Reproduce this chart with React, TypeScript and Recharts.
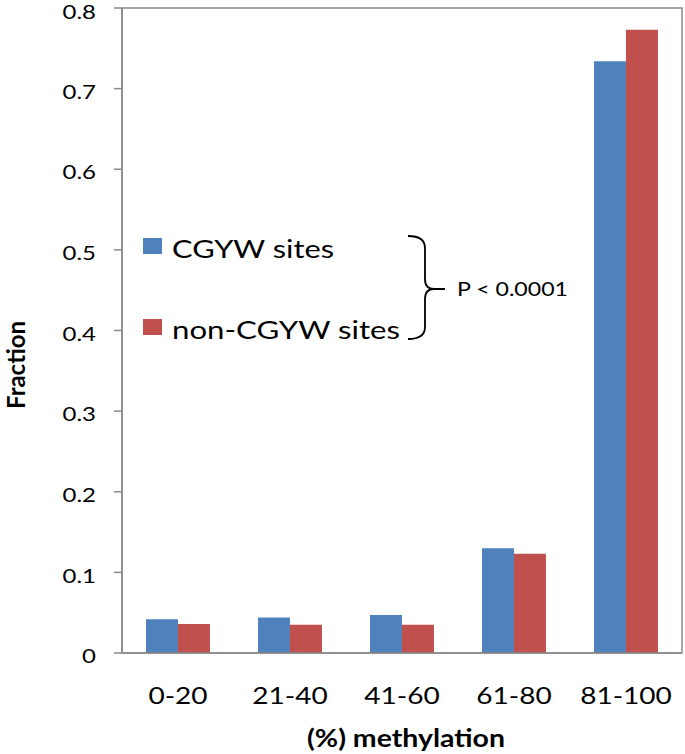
import {
  BarChart,
  Bar,
  XAxis,
  YAxis,
  Legend,
  ReferenceArea,
} from "recharts";

const categories = ["0-20", "21-40", "41-60", "61-80", "81-100"];
const cgywValues = [0.042, 0.044, 0.047, 0.13, 0.734];
const nonCgywValues = [0.036, 0.035, 0.035, 0.123, 0.773];
const yTicks = [0, 0.1, 0.2, 0.3, 0.4, 0.5, 0.6, 0.7, 0.8];

const data = categories.map((name, i) => ({
  name,
  cgyw: cgywValues[i],
  nonCgyw: nonCgywValues[i],
}));

const BLUE = "#4F81BD";
const RED = "#C0504D";
const AXIS = "#8a8a8a";
const FONT = "Lato, 'Open Sans', sans-serif";

function YTick({ x, y, payload }: any) {
  const label = payload.value === 0 ? "0" : payload.value.toFixed(1);
  return (
    <g transform={`translate(${x},${y + 3})`}>
      <text
        textAnchor="end"
        dy="0.36em"
        transform="scale(1.2,1)"
        fontFamily={FONT}
        fontSize={20}
        fill="#000"
      >
        {label}
      </text>
    </g>
  );
}

function XTick({ x, y, payload }: any) {
  return (
    <g transform={`translate(${x},${y})`}>
      <text
        textAnchor="middle"
        y={43}
        transform="scale(1.22,1)"
        fontFamily={FONT}
        fontSize={23}
        fill="#000"
      >
        {payload.value}
      </text>
    </g>
  );
}

// legend drawn as an overlay, with the brace and the p-value beside it
function LegendBox({ payload }: any) {
  const rows = [
    { top: 238, baseline: 258, width: 162 },
    { top: 319, baseline: 339, width: 228 },
  ];
  return (
    <svg width={685} height={754} style={{ display: "block" }}>
      {(payload || []).map((item: any, i: number) => (
        <g key={item.value}>
          <rect x={143} y={rows[i].top} width={19} height={16} fill={item.color} />
          <text
            x={172}
            y={rows[i].baseline}
            fontFamily={FONT}
            fontSize={25}
            textLength={rows[i].width}
            lengthAdjust="spacingAndGlyphs"
            fill="#000"
          >
            {item.value}
          </text>
        </g>
      ))}
      <path
        d="M 408 236 Q 425 236 425 248 L 425 279 Q 425 289 434 289 L 445 289 M 434 289 Q 425 289 425 299 L 425 327 Q 425 339 408 339"
        fill="none"
        stroke="#000"
        strokeWidth={1.8}
      />
      <text
        x={457}
        y={296}
        fontFamily={FONT}
        fontSize={19}
        textLength={111}
        lengthAdjust="spacingAndGlyphs"
        fill="#000"
      >
        P &lt; 0.0001
      </text>
    </svg>
  );
}

export default function App() {
  return (
    <div
      style={{
        position: "absolute",
        left: 0,
        top: 0,
        width: 685,
        height: 754,
        background: "#fff",
      }}
    >
      <BarChart
        width={685}
        height={754}
        data={data}
        margin={{ top: 8, right: 3, left: 0, bottom: 0 }}
        barCategoryGap="21.4%"
        barGap={0}
      >
        <XAxis
          dataKey="name"
          height={101}
          tickLine={false}
          axisLine={{ stroke: AXIS, strokeWidth: 1.5 }}
          tick={<XTick />}
          interval={0}
          label={{
            content: () => (
              <text
                x={406}
                y={747}
                textAnchor="middle"
                fontFamily={FONT}
                fontWeight="bold"
                fontSize={24}
                textLength={198}
                lengthAdjust="spacingAndGlyphs"
                fill="#000"
              >
                (%) methylation
              </text>
            ),
          }}
        />
        <YAxis
          width={122}
          domain={[0, 0.8]}
          ticks={yTicks}
          tickSize={8}
          tickMargin={18}
          tickLine={{ stroke: AXIS, strokeWidth: 1.5 }}
          axisLine={{ stroke: AXIS, strokeWidth: 1.5 }}
          tick={<YTick />}
          allowDataOverflow
          label={{
            content: () => (
              <text
                transform="translate(25,365) rotate(-90)"
                textAnchor="middle"
                fontFamily={FONT}
                fontWeight="bold"
                fontSize={24}
                fill="#000"
              >
                Fraction
              </text>
            ),
          }}
        />
        <ReferenceArea
          y1={0}
          y2={0.8}
          fill="none"
          stroke={AXIS}
          strokeWidth={1.5}
          ifOverflow="visible"
        />
        <Bar dataKey="cgyw" name="CGYW sites" fill={BLUE} isAnimationActive={false} />
        <Bar dataKey="nonCgyw" name="non-CGYW sites" fill={RED} isAnimationActive={false} />
        <Legend
          layout="vertical"
          align="center"
          verticalAlign="middle"
          wrapperStyle={{ left: 0, top: 0, width: 685, height: 754, pointerEvents: "none" }}
          content={<LegendBox />}
        />
      </BarChart>
    </div>
  );
}
